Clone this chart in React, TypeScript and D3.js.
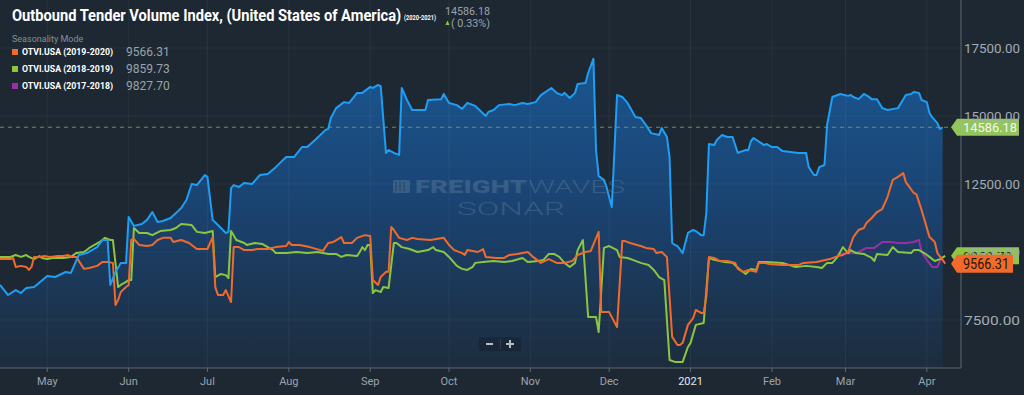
import * as React from "react";
import * as d3 from "d3";

// OTVI.USA 2020-2021 (main series, area)
const otvi2021: [string, number][] = [
  ["2020-04-13", 8790], ["2020-04-16", 8420], ["2020-04-19", 8600], ["2020-04-21", 8490], ["2020-04-23", 8680],
  ["2020-04-26", 8710], ["2020-05-01", 9120], ["2020-05-04", 9080], ["2020-05-08", 9265], ["2020-05-10", 9230],
  ["2020-05-13", 9890], ["2020-05-16", 9960], ["2020-05-20", 10180], ["2020-05-22", 10440], ["2020-05-24", 10440],
  ["2020-05-25", 8790], ["2020-05-27", 9265], ["2020-05-29", 9600], ["2020-05-31", 9600], ["2020-06-01", 11290],
  ["2020-06-03", 10960], ["2020-06-06", 11030], ["2020-06-08", 11180], ["2020-06-10", 11470], ["2020-06-12", 11100],
  ["2020-06-14", 11140], ["2020-06-17", 11250], ["2020-06-19", 11430], ["2020-06-21", 11620], ["2020-06-23", 11910],
  ["2020-06-25", 12500], ["2020-06-27", 12460], ["2020-06-30", 12830], ["2020-07-01", 12760], ["2020-07-03", 11180],
  ["2020-07-05", 10990], ["2020-07-08", 10700], ["2020-07-09", 10740], ["2020-07-10", 12350], ["2020-07-11", 12460],
  ["2020-07-13", 12390], ["2020-07-15", 12540], ["2020-07-18", 12500], ["2020-07-21", 12830], ["2020-07-24", 12870],
  ["2020-07-27", 13120], ["2020-07-31", 13490], ["2020-08-03", 13490], ["2020-08-06", 13860], ["2020-08-08", 13860],
  ["2020-08-11", 14120], ["2020-08-13", 14300], ["2020-08-15", 14490], ["2020-08-16", 14520], ["2020-08-17", 14930],
  ["2020-08-19", 15290], ["2020-08-22", 15510], ["2020-08-24", 15480], ["2020-08-27", 15850], ["2020-08-29", 15850],
  ["2020-09-01", 16070], ["2020-09-02", 16030], ["2020-09-04", 16140], ["2020-09-05", 16100], ["2020-09-07", 13640],
  ["2020-09-08", 13750], ["2020-09-10", 13640], ["2020-09-12", 13570], ["2020-09-13", 16030], ["2020-09-15", 15590],
  ["2020-09-17", 15220], ["2020-09-22", 15220], ["2020-09-23", 15590], ["2020-09-28", 15620], ["2020-09-29", 15810],
  ["2020-10-01", 15480], ["2020-10-04", 15400], ["2020-10-06", 15260], ["2020-10-08", 15480], ["2020-10-11", 15370],
  ["2020-10-15", 15000], ["2020-10-16", 15150], ["2020-10-18", 15220], ["2020-10-20", 15400], ["2020-10-24", 15440],
  ["2020-10-26", 15400], ["2020-10-29", 15480], ["2020-10-31", 15440], ["2020-11-03", 15510], ["2020-11-05", 15770],
  ["2020-11-09", 16030], ["2020-11-11", 15850], ["2020-11-13", 15770], ["2020-11-14", 15850], ["2020-11-16", 15660],
  ["2020-11-18", 15850], ["2020-11-19", 16180], ["2020-11-22", 16210], ["2020-11-23", 16580], ["2020-11-25", 17100],
  ["2020-11-26", 13750], ["2020-11-27", 12790], ["2020-11-29", 12650], ["2020-11-30", 12390], ["2020-12-02", 11650],
  ["2020-12-04", 15770], ["2020-12-06", 15700], ["2020-12-08", 15480], ["2020-12-11", 14960], ["2020-12-13", 14930],
  ["2020-12-15", 14670], ["2020-12-17", 14370], ["2020-12-20", 14300], ["2020-12-21", 14560], ["2020-12-23", 14230],
  ["2020-12-24", 13490], ["2020-12-25", 10330], ["2020-12-26", 10260], ["2020-12-27", 10220], ["2020-12-29", 9960],
  ["2020-12-31", 10700], ["2021-01-02", 10810], ["2021-01-03", 10770], ["2021-01-05", 10620], ["2021-01-06", 10620],
  ["2021-01-07", 11430], ["2021-01-08", 13970], ["2021-01-10", 13930], ["2021-01-11", 14120], ["2021-01-13", 14300],
  ["2021-01-15", 14230], ["2021-01-17", 14230], ["2021-01-19", 13640], ["2021-01-20", 13680], ["2021-01-22", 13750],
  ["2021-01-23", 13750], ["2021-01-24", 14080], ["2021-01-25", 14190], ["2021-01-29", 13930], ["2021-01-30", 13970],
  ["2021-02-01", 13860], ["2021-02-03", 13860], ["2021-02-05", 13710], ["2021-02-08", 13680], ["2021-02-11", 13640],
  ["2021-02-14", 13640], ["2021-02-15", 13120], ["2021-02-17", 12830], ["2021-02-18", 12830], ["2021-02-19", 13120],
  ["2021-02-21", 13200], ["2021-02-22", 14670], ["2021-02-24", 15700], ["2021-02-27", 15810], ["2021-03-02", 15740],
  ["2021-03-03", 15770], ["2021-03-04", 15700], ["2021-03-06", 15620], ["2021-03-08", 15810], ["2021-03-10", 15700],
  ["2021-03-11", 15620], ["2021-03-13", 15620], ["2021-03-15", 15290], ["2021-03-17", 15220], ["2021-03-21", 15290],
  ["2021-03-24", 15770], ["2021-03-26", 15810], ["2021-03-27", 15880], ["2021-03-29", 15850], ["2021-03-30", 15590],
  ["2021-04-01", 15510], ["2021-04-02", 15110], ["2021-04-03", 14960], ["2021-04-05", 14740], ["2021-04-06", 14520],
  ["2021-04-07", 14586.18],
];

// OTVI.USA 2019-2020, shifted one year
const otvi2020: [string, number][] = [
  ["2020-04-13", 9740], ["2020-04-17", 9740], ["2020-04-18", 9780], ["2020-04-19", 9450], ["2020-04-21", 9490],
  ["2020-04-23", 9450], ["2020-04-24", 9340], ["2020-04-25", 9450], ["2020-04-26", 9820], ["2020-04-28", 9820],
  ["2020-04-30", 9850], ["2020-05-02", 9820], ["2020-05-05", 9850], ["2020-05-07", 9850], ["2020-05-09", 9890],
  ["2020-05-10", 9820], ["2020-05-12", 9820], ["2020-05-15", 9380], ["2020-05-17", 9410], ["2020-05-20", 9490],
  ["2020-05-22", 9630], ["2020-05-24", 9630], ["2020-05-26", 9600], ["2020-05-27", 8050], ["2020-05-28", 8240],
  ["2020-05-29", 8530], ["2020-05-31", 8710], ["2020-06-01", 8790], ["2020-06-02", 10440], ["2020-06-03", 10480],
  ["2020-06-05", 10260], ["2020-06-08", 10220], ["2020-06-10", 10260], ["2020-06-12", 10440], ["2020-06-14", 10520],
  ["2020-06-17", 10520], ["2020-06-18", 10370], ["2020-06-21", 10440], ["2020-06-24", 10330], ["2020-06-27", 10110],
  ["2020-07-01", 10110], ["2020-07-03", 10550], ["2020-07-04", 8710], ["2020-07-05", 8420], ["2020-07-07", 8420],
  ["2020-07-08", 8600], ["2020-07-10", 8160], ["2020-07-11", 10180], ["2020-07-13", 10180], ["2020-07-15", 10070],
  ["2020-07-18", 10070], ["2020-07-20", 10110], ["2020-07-24", 10110], ["2020-07-27", 10180], ["2020-07-31", 10220],
  ["2020-08-01", 10370], ["2020-08-02", 10260], ["2020-08-05", 10260], ["2020-08-09", 10180], ["2020-08-14", 10040],
  ["2020-08-16", 10330], ["2020-08-18", 10370], ["2020-08-21", 10550], ["2020-08-22", 10330], ["2020-08-25", 10330],
  ["2020-08-27", 10520], ["2020-08-30", 10620], ["2020-09-01", 10590], ["2020-09-02", 8970], ["2020-09-04", 8790],
  ["2020-09-05", 9080], ["2020-09-07", 9270], ["2020-09-08", 9270], ["2020-09-09", 10920], ["2020-09-10", 10810],
  ["2020-09-12", 10520], ["2020-09-15", 10440], ["2020-09-17", 10520], ["2020-09-19", 10480], ["2020-09-24", 10440],
  ["2020-09-29", 10520], ["2020-10-01", 10260], ["2020-10-03", 10070], ["2020-10-06", 9960], ["2020-10-07", 9890],
  ["2020-10-08", 10070], ["2020-10-12", 10000], ["2020-10-14", 10110], ["2020-10-15", 9820], ["2020-10-19", 9780],
  ["2020-10-22", 9780], ["2020-10-24", 9890], ["2020-10-27", 9930], ["2020-10-31", 10000], ["2020-11-02", 9820],
  ["2020-11-05", 9600], ["2020-11-08", 9740], ["2020-11-11", 9600], ["2020-11-14", 9600], ["2020-11-17", 9670],
  ["2020-11-19", 9890], ["2020-11-22", 10000], ["2020-11-24", 10040], ["2020-11-27", 10740], ["2020-11-28", 7790],
  ["2020-12-01", 7790], ["2020-12-04", 7240], ["2020-12-06", 10400], ["2020-12-07", 10400], ["2020-12-09", 10330],
  ["2020-12-13", 10220], ["2020-12-15", 10150], ["2020-12-18", 10110], ["2020-12-19", 9960], ["2020-12-21", 10000],
  ["2020-12-23", 9820], ["2020-12-25", 6880], ["2020-12-27", 6580], ["2020-12-28", 6580], ["2020-12-29", 6660],
  ["2020-12-31", 7320], ["2021-01-02", 7570], ["2021-01-03", 7870], ["2021-01-05", 7760], ["2021-01-06", 7760],
  ["2021-01-07", 8350], ["2021-01-08", 9820], ["2021-01-10", 9780], ["2021-01-12", 9670], ["2021-01-15", 9670],
  ["2021-01-18", 9600], ["2021-01-19", 9380], ["2021-01-21", 9270], ["2021-01-23", 9340], ["2021-01-26", 9270],
  ["2021-01-27", 9600], ["2021-01-29", 9600], ["2021-01-31", 9560], ["2021-02-05", 9520], ["2021-02-11", 9520],
  ["2021-02-13", 9600], ["2021-02-18", 9630], ["2021-02-23", 9740], ["2021-02-26", 9850], ["2021-02-28", 9890],
  ["2021-03-02", 10000], ["2021-03-04", 10550], ["2021-03-06", 10810], ["2021-03-08", 10880], ["2021-03-09", 11070],
  ["2021-03-11", 11250], ["2021-03-13", 11470], ["2021-03-15", 11580], ["2021-03-17", 12020], ["2021-03-19", 12650],
  ["2021-03-21", 12760], ["2021-03-23", 12900], ["2021-03-24", 12570], ["2021-03-27", 12170], ["2021-03-28", 12130],
  ["2021-03-30", 11540], ["2021-04-02", 10550], ["2021-04-04", 10370], ["2021-04-05", 9960], ["2021-04-07", 9710],
  ["2021-04-08", 9566.31],
];

// OTVI.USA 2018-2019, shifted two years
const otvi2019: [string, number][] = [
  ["2020-04-13", 9820], ["2020-04-17", 9820], ["2020-04-19", 9890], ["2020-04-21", 9820], ["2020-04-23", 9890],
  ["2020-04-24", 9820], ["2020-04-26", 9740], ["2020-04-28", 9850], ["2020-04-29", 9780], ["2020-05-01", 9740],
  ["2020-05-03", 9780], ["2020-05-07", 9780], ["2020-05-10", 9820], ["2020-05-12", 9960], ["2020-05-15", 10000],
  ["2020-05-17", 10150], ["2020-05-19", 10260], ["2020-05-21", 10370], ["2020-05-23", 10520], ["2020-05-25", 10440],
  ["2020-05-26", 10440], ["2020-05-28", 8710], ["2020-05-29", 8790], ["2020-05-31", 8900], ["2020-06-01", 8970],
  ["2020-06-02", 8970], ["2020-06-03", 10880], ["2020-06-05", 10700], ["2020-06-08", 10700], ["2020-06-10", 10620],
  ["2020-06-13", 10770], ["2020-06-17", 10810], ["2020-06-19", 10880], ["2020-06-21", 11030], ["2020-06-25", 10990],
  ["2020-06-27", 10740], ["2020-06-30", 10700], ["2020-07-03", 10770], ["2020-07-04", 9080], ["2020-07-06", 9190],
  ["2020-07-08", 9150], ["2020-07-09", 9040], ["2020-07-10", 10770], ["2020-07-12", 10440], ["2020-07-15", 10330],
  ["2020-07-16", 10260], ["2020-07-19", 10330], ["2020-07-22", 10290], ["2020-07-26", 10070], ["2020-07-27", 9960],
  ["2020-07-31", 9960], ["2020-08-04", 10000], ["2020-08-08", 9960], ["2020-08-12", 10000], ["2020-08-16", 9930],
  ["2020-08-19", 9930], ["2020-08-21", 9820], ["2020-08-23", 9890], ["2020-08-27", 9850], ["2020-08-28", 10000],
  ["2020-08-29", 10180], ["2020-08-30", 10070], ["2020-08-31", 10260], ["2020-09-01", 10260], ["2020-09-02", 8490],
  ["2020-09-03", 8600], ["2020-09-05", 8530], ["2020-09-06", 8710], ["2020-09-08", 8680], ["2020-09-10", 10330],
  ["2020-09-11", 10330], ["2020-09-13", 10180], ["2020-09-16", 10110], ["2020-09-19", 10000], ["2020-09-23", 10070],
  ["2020-09-25", 10180], ["2020-09-26", 10070], ["2020-09-29", 10000], ["2020-10-01", 9820], ["2020-10-04", 9490],
  ["2020-10-06", 9380], ["2020-10-08", 9340], ["2020-10-10", 9450], ["2020-10-11", 9600], ["2020-10-14", 9630],
  ["2020-10-18", 9670], ["2020-10-22", 9630], ["2020-10-25", 9670], ["2020-10-29", 9780], ["2020-10-31", 9630],
  ["2020-11-04", 9670], ["2020-11-06", 9710], ["2020-11-08", 9930], ["2020-11-10", 9930], ["2020-11-12", 9820],
  ["2020-11-14", 9600], ["2020-11-16", 9450], ["2020-11-18", 9600], ["2020-11-19", 10070], ["2020-11-21", 10440],
  ["2020-11-23", 7610], ["2020-11-26", 7610], ["2020-11-27", 7060], ["2020-11-29", 10150], ["2020-12-01", 10220],
  ["2020-12-04", 10070], ["2020-12-05", 9820], ["2020-12-08", 9780], ["2020-12-10", 9710], ["2020-12-13", 9600],
  ["2020-12-16", 9520], ["2020-12-18", 9340], ["2020-12-20", 9080], ["2020-12-22", 8970], ["2020-12-24", 6030],
  ["2020-12-26", 5960], ["2020-12-29", 5960], ["2020-12-31", 6510], ["2021-01-01", 6660], ["2021-01-03", 7320],
  ["2021-01-06", 7390], ["2021-01-08", 9780], ["2021-01-10", 9710], ["2021-01-14", 9630], ["2021-01-17", 9600],
  ["2021-01-20", 9340], ["2021-01-22", 9190], ["2021-01-24", 9380], ["2021-01-26", 9340], ["2021-01-27", 9630],
  ["2021-01-30", 9630], ["2021-02-05", 9600], ["2021-02-10", 9450], ["2021-02-14", 9490], ["2021-02-18", 9450],
  ["2021-02-20", 9410], ["2021-02-22", 9600], ["2021-02-24", 9600], ["2021-02-26", 9820], ["2021-02-28", 10180],
  ["2021-03-02", 9960], ["2021-03-03", 10070], ["2021-03-05", 9960], ["2021-03-08", 9930], ["2021-03-11", 9780],
  ["2021-03-12", 9670], ["2021-03-13", 9930], ["2021-03-17", 9890], ["2021-03-19", 10180], ["2021-03-21", 10000],
  ["2021-03-26", 9960], ["2021-03-27", 10070], ["2021-03-29", 10070], ["2021-03-31", 9960], ["2021-04-02", 9820],
  ["2021-04-04", 9670], ["2021-04-06", 9740], ["2021-04-08", 9859.73],
];

// OTVI.USA 2017-2018 (only visible where it leaves the others)
const otvi2018: [string, number][] = [
  ["2021-02-26", 9930], ["2021-03-04", 9960], ["2021-03-06", 10000], ["2021-03-09", 10150], ["2021-03-12", 10150],
  ["2021-03-15", 10370], ["2021-03-18", 10370], ["2021-03-21", 10330], ["2021-03-24", 10330], ["2021-03-27", 10370],
  ["2021-03-29", 10440], ["2021-03-30", 10000], ["2021-04-01", 9710], ["2021-04-03", 9450], ["2021-04-05", 9450],
  ["2021-04-06", 9670], ["2021-04-07", 9827.7],
];

const legendNames = ["OTVI.USA (2019-2020)", "OTVI.USA (2018-2019)", "OTVI.USA (2017-2018)"];
const legendValues = ["9566.31", "9859.73", "9827.70"];
const yTicks = [7500, 10000, 12500, 15000, 17500];
const xTickLabels = ["May", "Jun", "Jul", "Aug", "Sep", "Oct", "Nov", "Dec", "2021", "Feb", "Mar", "Apr"];

const W = 1024;
const H = 395;
const plotW = 961;
const plotB = 368;
const FONT = "Roboto, 'Noto Sans', sans-serif";
const BLUE = "#1e9ef5";
const ORANGE = "#f26a2b";
const GREEN = "#8cc63f";
const PURPLE = "#9a2ea3";
const BG = "#1e2832";

const parse = d3.timeParse("%Y-%m-%d");
type Pt = [Date, number];
const toPts = (a: [string, number][]): Pt[] => a.map(([d, v]) => [parse(d) as Date, v]);

export default function App() {
  const x = d3.scaleTime().domain([new Date(2020, 3, 13), new Date(2021, 3, 14)]).range([0, plotW]);
  const y = d3.scaleLinear().domain([7500, 17500]).range([320, 48]);

  const line = d3.line<Pt>().x((d) => x(d[0])).y((d) => y(d[1]));
  const area = d3.area<Pt>().x((d) => x(d[0])).y0(plotB).y1((d) => y(d[1]));

  const main = toPts(otvi2021);
  const s20 = toPts(otvi2020);
  const s19 = toPts(otvi2019);
  const s18 = toPts(otvi2018);

  const monthTicks = d3.timeMonth.range(new Date(2020, 4, 1), new Date(2021, 4, 1));
  const lastMain = main[main.length - 1][1];
  const yLast = y(lastMain);
  const y20 = y(s20[s20.length - 1][1]);
  const y19 = y(s19[s19.length - 1][1]);

  const tag = (cy: number, right: number, h: number) =>
    `${951},${cy} ${957},${cy - h / 2} ${right},${cy - h / 2} ${right},${cy + h / 2} ${957},${cy + h / 2}`;

  const legendColors = [ORANGE, GREEN, PURPLE];

  return (
    <div style={{ position: "absolute", left: 0, top: 0 }}>
      <svg width={W} height={H} style={{ display: "block", fontFamily: FONT }}>
        <defs>
          <linearGradient id="blueFill" gradientUnits="userSpaceOnUse" x1="0" y1="60" x2="0" y2={plotB}>
            <stop offset="0" stopColor="#1a5690" />
            <stop offset="0.45" stopColor="#1a4473" />
            <stop offset="1" stopColor="#1d2c3d" />
          </linearGradient>
          <clipPath id="plotClip">
            <rect x={0} y={0} width={plotW} height={plotB} />
          </clipPath>
        </defs>
        <rect width={W} height={H} fill={BG} />

        <g clipPath="url(#plotClip)">
          <path d={area(main) || ""} fill="url(#blueFill)" />
          {monthTicks.map((t, i) => (
            <line key={i} x1={x(t)} x2={x(t)} y1={0} y2={plotB} stroke="#ffffff" strokeOpacity={0.05} />
          ))}
          {yTicks.map((v) => (
            <line key={v} x1={0} x2={plotW} y1={y(v)} y2={y(v)} stroke="#ffffff" strokeOpacity={0.04} />
          ))}

          {/* watermark */}
          <g fill="#9fb4c8" fillOpacity={0.22}>
            <rect x={393} y={180} width={17} height={13} rx={1.5} />
            <text x={415} y={193} fontSize={17.5} fontWeight={900} textLength={112} lengthAdjust="spacingAndGlyphs">FREIGHT</text>
            <text x={528} y={193} fontSize={17.5} fontWeight={300} textLength={97} lengthAdjust="spacingAndGlyphs">WAVES</text>
            <text x={457} y={215} fontSize={17.5} fontWeight={300} textLength={108} lengthAdjust="spacingAndGlyphs">SONAR</text>
          </g>
          <g stroke={BG} strokeOpacity={0.5} strokeWidth={1}>
            {[396, 400, 404].map((sx) => (
              <line key={sx} x1={sx} x2={sx} y1={182} y2={191} />
            ))}
          </g>

          <path d={line(s18) || ""} fill="none" stroke={PURPLE} strokeWidth={2} strokeLinejoin="round" />
          <path d={line(s19) || ""} fill="none" stroke={GREEN} strokeWidth={2} strokeLinejoin="round" />
          <path d={line(s20) || ""} fill="none" stroke={ORANGE} strokeWidth={2} strokeLinejoin="round" />
          <path d={line(main) || ""} fill="none" stroke={BLUE} strokeWidth={2} strokeLinejoin="round" />
        </g>

        {/* last value dashed line */}
        <line x1={0} x2={951} y1={yLast} y2={yLast} stroke="#7f9f5c" strokeDasharray="4 4" strokeOpacity={0.85} />

        {/* axes */}
        <line x1={plotW} x2={plotW} y1={0} y2={plotB} stroke="#5d6873" />
        <line x1={0} x2={plotW} y1={plotB} y2={plotB} stroke="#5d6873" />
        {monthTicks.map((t, i) => (
          <g key={i}>
            <line x1={x(t)} x2={x(t)} y1={plotB} y2={plotB + 4} stroke="#5d6873" />
            <text x={x(t)} y={385} fontSize={11} textAnchor="middle" fill={xTickLabels[i] === "2021" ? "#e6e9ec" : "#9aa4ae"}>
              {xTickLabels[i]}
            </text>
          </g>
        ))}

        {/* right tags */}
        <polygon points={tag(yLast, 1019, 17)} fill="#93c55c" />
        <text x={963} y={yLast + 0.5} dy="0.36em" fontSize={13} fill="#f4f7f0" textLength={54} lengthAdjust="spacingAndGlyphs">14586.18</text>
        <polygon points={tag(y19, 1019, 17)} fill="#8dc642" />
        <text x={963} y={y19} dy="0.36em" fontSize={13.5} fill="#2d3a1e">{legendValues[1]}</text>
        {yTicks.map((v) => (
          <text key={v} x={964} y={y(v)} dy="0.36em" fontSize={13.5} fill="#a3abb3" textLength={56} lengthAdjust="spacingAndGlyphs">
            {d3.format(".2f")(v)}
          </text>
        ))}
        <polygon points={tag(y20, 1013, 18)} fill={ORANGE} />
        <text x={963} y={y20} dy="0.36em" fontSize={14.5} fill="#2a1608" textLength={46} lengthAdjust="spacingAndGlyphs">{legendValues[0]}</text>

        {/* title, condensed by a horizontal scale */}
        <text transform="translate(12,21) scale(0.862,1)" fontSize={17} fontWeight={700} fill="#ffffff">
          Outbound Tender Volume Index, (United States of America)
        </text>
        <text x={404} y={20} fontSize={6.5} fontWeight={700} fill="#ffffff" textLength={32} lengthAdjust="spacingAndGlyphs">
          (2020-2021)
        </text>
        <text x={445} y={15} fontSize={11.5} fill="#9aa3ab" textLength={45} lengthAdjust="spacingAndGlyphs">14586.18</text>
        <polygon points="445.5,25 449.5,25 447.5,20.5" fill={GREEN} />
        <text x={451} y={27} fontSize={11.5} fill="#9aa3ab" textLength={39} lengthAdjust="spacingAndGlyphs">( 0.33%)</text>

        {/* legend */}
        <text x={12} y={42} fontSize={9} fill="#858e97">Seasonality Mode</text>
        {legendNames.map((n, i) => (
          <g key={n} transform={`translate(0,${52 + i * 17})`}>
            <rect x={12} y={-3} width={6} height={6} fill={legendColors[i]} />
            <text x={22} y={0} dy="0.35em" fontSize={9.5} fontWeight={700} fill="#ffffff" textLength={91} lengthAdjust="spacingAndGlyphs">
              {n}
            </text>
            <text x={126} y={0} dy="0.36em" fontSize={12} fill="#9aa3ab">{legendValues[i]}</text>
          </g>
        ))}

        {/* zoom buttons */}
        <rect x={479} y={337} width={42} height={14} rx={2} fill="#000000" fillOpacity={0.16} />
        <line x1={486} x2={493} y1={344} y2={344} stroke="#b4bcc4" strokeWidth={2} />
        <line x1={500.5} x2={500.5} y1={339} y2={349} stroke="#ffffff" strokeOpacity={0.1} />
        <line x1={506} x2={514} y1={344} y2={344} stroke="#b4bcc4" strokeWidth={2} />
        <line x1={510} x2={510} y1={340} y2={348} stroke="#b4bcc4" strokeWidth={2} />
      </svg>
    </div>
  );
}
